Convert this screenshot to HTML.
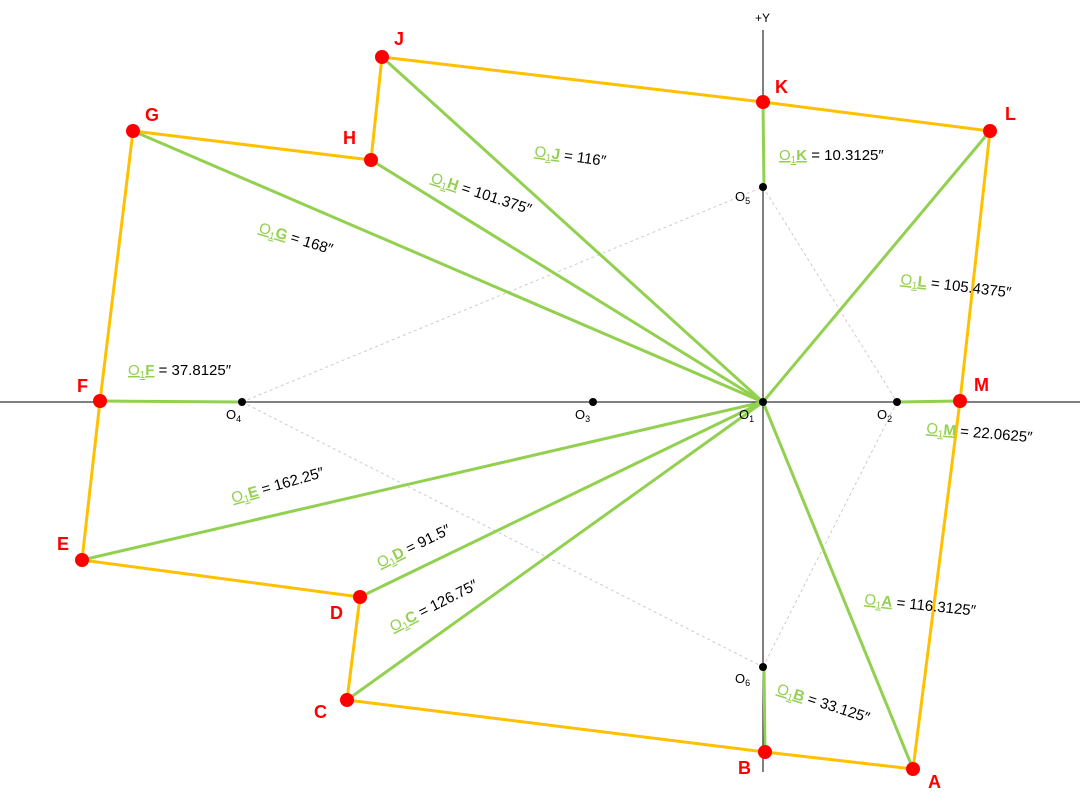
<!DOCTYPE html>
<html><head><meta charset="utf-8"><style>
html,body{margin:0;padding:0;background:#fff;}
svg{display:block;font-family:"Liberation Sans",sans-serif;}
.lbl{font-size:15px;fill:#000;}
.g{fill:#92d050;text-decoration:underline;}
.pt{font-size:18px;font-weight:bold;fill:#ff0000;}
.ol{font-size:13px;fill:#000;}
</style></head><body>
<svg width="1080" height="807" viewBox="0 0 1080 807">
<!-- axes -->
<line x1="0" y1="402" x2="1080" y2="402" stroke="#000" stroke-width="1"/>
<line x1="763" y1="30" x2="763" y2="772" stroke="#000" stroke-width="1"/>
<text x="755" y="22" font-size="12">+Y</text>
<!-- dashed -->
<g stroke="#ccc" stroke-width="1" stroke-dasharray="3,3">
<line x1="242" y1="402" x2="763" y2="187"/>
<line x1="242" y1="402" x2="763" y2="667"/>
<line x1="763" y1="187" x2="897" y2="402"/>
<line x1="763" y1="667" x2="897" y2="402"/>
</g>
<!-- green -->
<g stroke="#92d050" stroke-width="3">
<line x1="763" y1="402" x2="913" y2="769"/>
<line x1="763" y1="402" x2="347" y2="700"/>
<line x1="763" y1="402" x2="360" y2="597"/>
<line x1="763" y1="402" x2="82" y2="560"/>
<line x1="763" y1="402" x2="133" y2="131"/>
<line x1="763" y1="402" x2="371" y2="160"/>
<line x1="763" y1="402" x2="382" y2="57"/>
<line x1="763" y1="402" x2="990" y2="131"/>
<line x1="763" y1="102" x2="764" y2="187"/>
<line x1="100" y1="401" x2="242" y2="402"/>
<line x1="960" y1="401" x2="897" y2="402"/>
<line x1="765" y1="752" x2="764" y2="667"/>
</g>
<!-- orange polygon -->
<polygon points="913,769 765,752 347,700 360,597 82,560 100,401 133,131 371,160 382,57 763,102 990,131 960,401" fill="none" stroke="#ffc000" stroke-width="3" stroke-linejoin="round"/>
<!-- red points -->
<g fill="#ff0000">
<circle cx="913" cy="769" r="7"/><circle cx="765" cy="752" r="7"/><circle cx="347" cy="700" r="7"/>
<circle cx="360" cy="597" r="7"/><circle cx="82" cy="560" r="7"/><circle cx="100" cy="401" r="7"/>
<circle cx="133" cy="131" r="7"/><circle cx="371" cy="160" r="7"/><circle cx="382" cy="57" r="7"/>
<circle cx="763" cy="102" r="7"/><circle cx="990" cy="131" r="7"/><circle cx="960" cy="401" r="7"/>
</g>
<!-- O points -->
<g fill="#000">
<circle cx="763" cy="402" r="4"/><circle cx="897" cy="402" r="4"/><circle cx="593" cy="402" r="4"/>
<circle cx="242" cy="402" r="4"/><circle cx="763" cy="187" r="4"/><circle cx="763" cy="667" r="4"/>
</g>
<g class="ol">
<text x="739" y="419">O<tspan font-size="9" dy="3">1</tspan></text>
<text x="877" y="419">O<tspan font-size="9" dy="3">2</tspan></text>
<text x="575" y="419">O<tspan font-size="9" dy="3">3</tspan></text>
<text x="226" y="419">O<tspan font-size="9" dy="3">4</tspan></text>
<text x="735" y="201">O<tspan font-size="9" dy="3">5</tspan></text>
<text x="735" y="683">O<tspan font-size="9" dy="3">6</tspan></text>
</g>
<!-- point labels -->
<g class="pt">
<text x="928" y="788">A</text><text x="738" y="774">B</text><text x="314" y="718">C</text>
<text x="330" y="619">D</text><text x="57" y="550">E</text><text x="77" y="392">F</text>
<text x="145" y="121">G</text><text x="343" y="144">H</text><text x="394" y="45">J</text>
<text x="775" y="93">K</text><text x="1005" y="120">L</text><text x="974" y="391">M</text>
</g>
<!-- measurement labels -->
<g class="lbl">
<text transform="translate(534,156) rotate(8)"><tspan class="g">O<tspan font-size="10" dy="3">1</tspan><tspan dy="-3" font-weight="bold">J</tspan></tspan> = 116″</text>
<text x="779" y="160"><tspan class="g">O<tspan font-size="10" dy="3">1</tspan><tspan dy="-3" font-weight="bold">K</tspan></tspan> = 10.3125″</text>
<text transform="translate(430,182) rotate(18)"><tspan class="g">O<tspan font-size="10" dy="3">1</tspan><tspan dy="-3" font-weight="bold">H</tspan></tspan> = 101.375″</text>
<text transform="translate(258,232) rotate(17)"><tspan class="g">O<tspan font-size="10" dy="3">1</tspan><tspan dy="-3" font-weight="bold">G</tspan></tspan> = 168″</text>
<text transform="translate(900,284) rotate(7)"><tspan class="g">O<tspan font-size="10" dy="3">1</tspan><tspan dy="-3" font-weight="bold">L</tspan></tspan> = 105.4375″</text>
<text x="128" y="375"><tspan class="g">O<tspan font-size="10" dy="3">1</tspan><tspan dy="-3" font-weight="bold">F</tspan></tspan> = 37.8125″</text>
<text transform="translate(926,433) rotate(5)"><tspan class="g">O<tspan font-size="10" dy="3">1</tspan><tspan dy="-3" font-weight="bold">M</tspan></tspan> = 22.0625″</text>
<text transform="translate(233,503) rotate(-16)"><tspan class="g">O<tspan font-size="10" dy="3">1</tspan><tspan dy="-3" font-weight="bold">E</tspan></tspan> = 162.25″</text>
<text transform="translate(380,568) rotate(-26)"><tspan class="g">O<tspan font-size="10" dy="3">1</tspan><tspan dy="-3" font-weight="bold">D</tspan></tspan> = 91.5″</text>
<text transform="translate(393,632) rotate(-27)"><tspan class="g">O<tspan font-size="10" dy="3">1</tspan><tspan dy="-3" font-weight="bold">C</tspan></tspan> = 126.75″</text>
<text transform="translate(864,604) rotate(6)"><tspan class="g">O<tspan font-size="10" dy="3">1</tspan><tspan dy="-3" font-weight="bold">A</tspan></tspan> = 116.3125″</text>
<text transform="translate(776,693) rotate(18)"><tspan class="g">O<tspan font-size="10" dy="3">1</tspan><tspan dy="-3" font-weight="bold">B</tspan></tspan> = 33.125″</text>
</g>
</svg>
</body></html>
